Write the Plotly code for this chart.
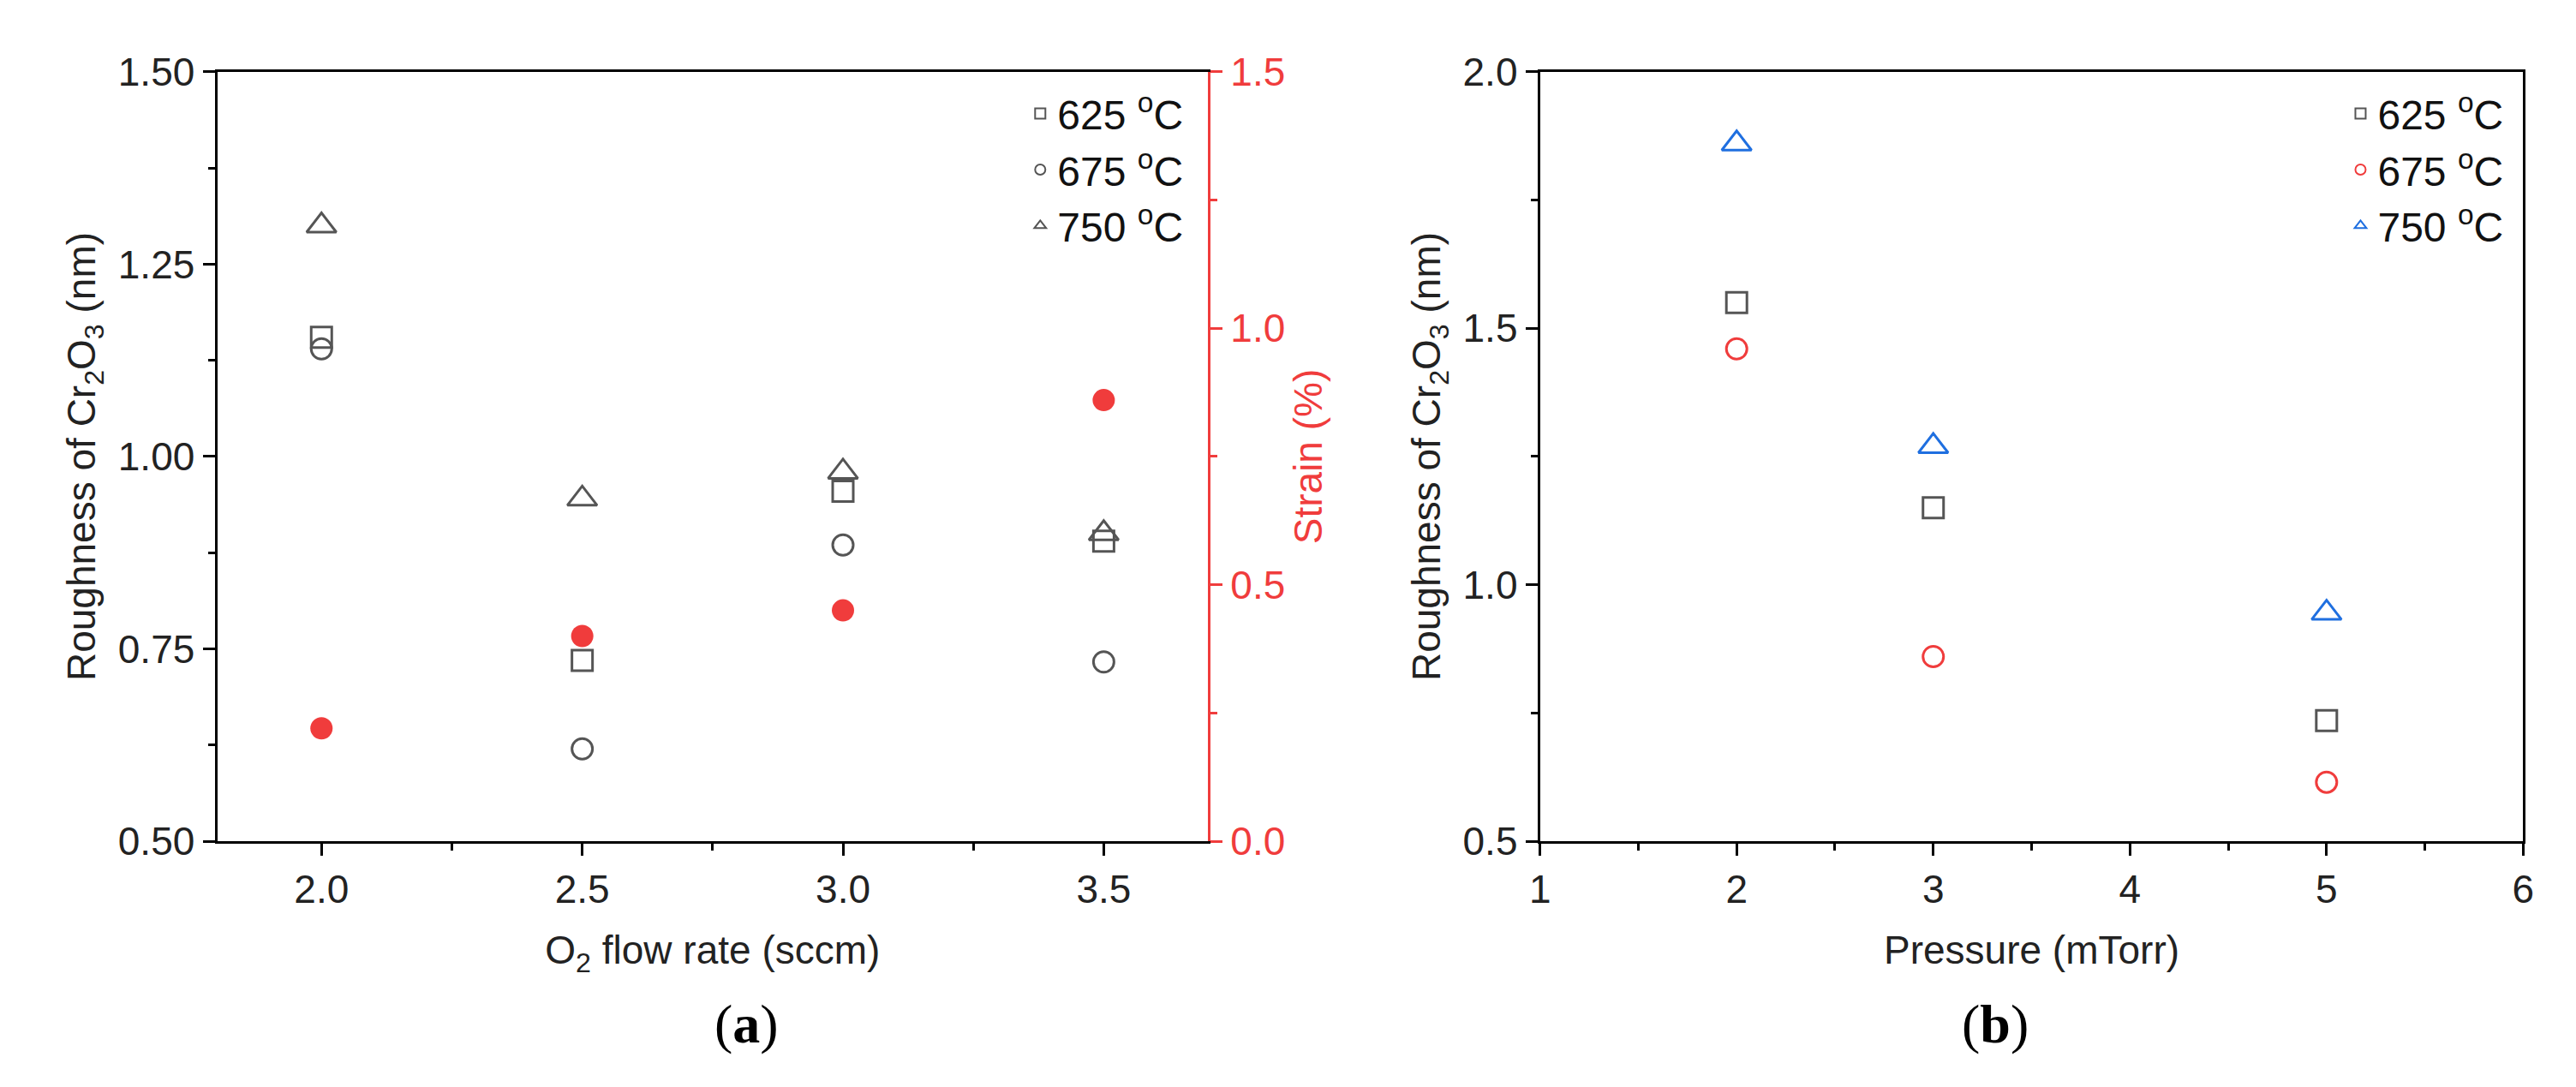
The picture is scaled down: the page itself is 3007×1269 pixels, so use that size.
import plotly.graph_objects as go

flow = [2.0, 2.5, 3.0, 3.5]
a625 = [1.155, 0.735, 0.955, 0.89]
a675 = [1.14, 0.62, 0.885, 0.733]
a750 = [1.30, 0.945, 0.98, 0.90]
strain = [0.22, 0.40, 0.45, 0.86]

pres = [2, 3, 5]
b625 = [1.55, 1.15, 0.735]
b675 = [1.46, 0.86, 0.615]
b750 = [1.86, 1.27, 0.945]

labels = ["625 <sup>o</sup>C", "675 <sup>o</sup>C", "750 <sup>o</sup>C"]
GRAY = "#555555"; RED = "#f03c3c"; BLUE = "#1f6fe0"
FONT = "Liberation Sans"
syms = ["square-open", "circle-open", "triangle-up-open"]
sizes = [24, 24, 30]

fig = go.Figure()
for ys, sym, sz, lab in zip([a625, a675, a750], syms, sizes, labels):
    fig.add_trace(go.Scatter(x=flow, y=ys, mode="markers", name=lab, legend="legend",
                             marker=dict(symbol=sym, size=sz, color=GRAY, line=dict(width=3, color=GRAY)),
                             xaxis="x", yaxis="y"))
fig.add_trace(go.Scatter(x=flow, y=strain, mode="markers", showlegend=False,
                         marker=dict(symbol="circle", size=26, color=RED), xaxis="x", yaxis="y2"))
for ys, sym, sz, col, lab in zip([b625, b675, b750], syms, sizes, [GRAY, RED, BLUE], labels):
    fig.add_trace(go.Scatter(x=pres, y=ys, mode="markers", name=lab, legend="legend2",
                             marker=dict(symbol=sym, size=sz, color=col, line=dict(width=3, color=col)),
                             xaxis="x2", yaxis="y3"))

tf = dict(family=FONT, size=46, color="#222")
ttl = dict(family=FONT, size=46, color="#222")
mn = dict(ticklen=8, tickwidth=3, tickcolor="black", ticks="outside")
common = dict(showgrid=False, zeroline=False, showline=True, linecolor="black", linewidth=3,
              ticks="outside", ticklen=14, tickwidth=3, tickcolor="black", tickfont=tf)
ydom = [0.221, 0.959]
lg = dict(font=dict(family=FONT, size=48, color="#111"), bgcolor="rgba(0,0,0,0)",
          itemsizing="constant", tracegroupgap=0, yanchor="top", xanchor="right")
fig.update_layout(
    width=3007, height=1269, margin=dict(l=0, r=0, t=0, b=0),
    plot_bgcolor="white", paper_bgcolor="white",
    xaxis=dict(domain=[0.078, 0.466], range=[1.8, 3.7], tickvals=[2.0, 2.5, 3.0, 3.5], ticktext=["2.0", "2.5", "3.0", "3.5"],
               minor=dict(tickvals=[2.25, 2.75, 3.25], **mn),
               title=dict(text="O<sub>2</sub> flow rate (sccm)", font=ttl, standoff=30), mirror=True, anchor="y", **common),
    yaxis=dict(domain=ydom, range=[0.5, 1.5], tickvals=[0.5, 0.75, 1.0, 1.25, 1.5],
               ticktext=["0.50", "0.75", "1.00", "1.25", "1.50"],
               minor=dict(tickvals=[0.625, 0.875, 1.125, 1.375], **mn),
               title=dict(text="Roughness of Cr<sub>2</sub>O<sub>3</sub> (nm)", font=ttl, standoff=12), anchor="x", **common),
    yaxis2=dict(domain=ydom, overlaying="y", side="right", anchor="x", range=[0, 1.5], tickvals=[0, 0.5, 1.0, 1.5],
                ticktext=["0.0", "0.5", "1.0", "1.5"], showgrid=False, zeroline=False, showline=True, linecolor=RED,
                linewidth=3, ticks="outside", ticklen=14, tickwidth=3, tickcolor=RED,
                tickfont=dict(family=FONT, size=46, color=RED),
                minor=dict(tickvals=[0.25, 0.75, 1.25], ticklen=8, tickwidth=3, tickcolor=RED, ticks="outside"),
                title=dict(text="Strain (%)", font=dict(family=FONT, size=46, color=RED), standoff=12)),
    xaxis2=dict(domain=[0.596, 0.981], range=[1, 6], tickvals=[1, 2, 3, 4, 5, 6],
                minor=dict(tickvals=[1.5, 2.5, 3.5, 4.5, 5.5], **mn),
                title=dict(text="Pressure (mTorr)", font=ttl, standoff=30), mirror=True, anchor="y3", **common),
    yaxis3=dict(domain=ydom, range=[0.5, 2.0], tickvals=[0.5, 1.0, 1.5, 2.0], ticktext=["0.5", "1.0", "1.5", "2.0"],
                minor=dict(tickvals=[0.75, 1.25, 1.75], **mn),
                title=dict(text="Roughness of Cr<sub>2</sub>O<sub>3</sub> (nm)", font=ttl, standoff=12),
                mirror=True, anchor="x2", **common),
    legend=dict(x=0.458, y=0.95, **lg),
    legend2=dict(x=0.975, y=0.95, **lg),
    annotations=[
        dict(text="(<b>a</b>)", x=0.272, y=0.015, xref="paper", yref="paper", showarrow=False, yanchor="bottom",
             font=dict(family="Liberation Serif", size=64, color="black")),
        dict(text="(<b>b</b>)", x=0.788, y=0.015, xref="paper", yref="paper", showarrow=False, yanchor="bottom",
             font=dict(family="Liberation Serif", size=64, color="black")),
    ],
)
fig.write_html("out.html")
